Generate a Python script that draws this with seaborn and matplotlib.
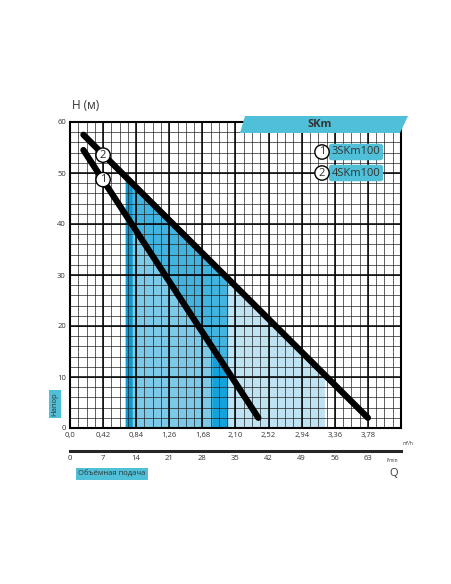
import numpy as np
import matplotlib
matplotlib.use("Agg")
import matplotlib.pyplot as plt
import seaborn as sns
from matplotlib.patches import Polygon, Circle, FancyBboxPatch

sns.set_style("white")
plt.rcParams['font.family'] = ['Open Sans', 'DejaVu Sans']

q1 = [0.17, 2.39]; h1 = [54.5, 2.0]
q2 = [0.17, 3.78]; h2 = [57.5, 2.0]
xticks = [0.0, 0.42, 0.84, 1.26, 1.68, 2.10, 2.52, 2.94, 3.36, 3.78]
xlabels = ["0,0", "0,42", "0,84", "1,26", "1,68", "2,10", "2,52", "2,94", "3,36", "3,78"]
lticks = [0, 7, 14, 21, 28, 35, 42, 49, 56, 63]
names = ["3SKm100", "4SKm100"]
W, H = 452, 584
fig = plt.figure(figsize=(W/100, H/100), dpi=100)
ax = fig.add_axes([70/W, 1-428/H, 331/W, 306/H])
ax.set_xlim(0, 4.2); ax.set_ylim(0, 60)

def c2(x): return np.interp(x, q2, h2)
def c1(x): return np.interp(x, q1, h1)
xs = np.linspace(0.7, 3.23, 200)
ax.fill_between(xs, 0, c2(xs), color="#bfe3f2", zorder=1, lw=0)
xm = np.linspace(0.79, 2.0, 200)
ax.fill_between(xm, 0, c2(xm), color="#6cc3e6", zorder=1.2, lw=0, alpha=0.8)
xd = np.linspace(0.79, 2.0, 100)
ax.fill_between(xd, c1(xd), c2(xd), color="#1ea5dc", zorder=1.3, lw=0, alpha=0.6)
ax.fill_between([1.8, 2.0], 0, [c1(1.8), c1(2.0)], color="#12a3dc", zorder=1.3, lw=0)
xk = np.linspace(0.7, 0.79, 10)
ax.fill_between(xk, 0, c2(xk), color="#0a9bd6", zorder=1.4, lw=0)

for v in np.arange(0, 4.2001, 0.105):
    ax.axvline(v, color="#222", lw=0.5, zorder=2)
for v in np.arange(0, 60.01, 2):
    ax.axhline(v, color="#222", lw=0.5, zorder=2)
for v in xticks:
    ax.axvline(v, color="#000", lw=1.1, zorder=2)
for v in range(0, 61, 10):
    ax.axhline(v, color="#000", lw=1.1, zorder=2)

sns.lineplot(x=q1, y=h1, ax=ax, color="black", lw=4.5, zorder=5)
sns.lineplot(x=q2, y=h2, ax=ax, color="black", lw=4.5, zorder=5)
for lab, (x, y) in [("1", (0.42, 48.7)), ("2", (0.42, 53.5))]:
    ax.text(x, y, lab, ha="center", va="center", fontsize=8, zorder=7,
            bbox=dict(boxstyle="circle,pad=0.15", fc="white", ec="black", lw=1))

ax.set_xticks(xticks); ax.set_xticklabels(xlabels, fontsize=5.5, color="#333")
ax.set_yticks(range(0, 61, 10)); ax.set_yticklabels([str(v) for v in range(0, 61, 10)], fontsize=5.5, color="#333")
ax.tick_params(length=0, pad=3)
for s in ax.spines.values():
    s.set_linewidth(1.5); s.set_color("black")
ax.text(4.22, -2.5, "m³/h", fontsize=3.5, va="top", color="#333")

ax2 = fig.add_axes([70/W, 1-451/H, 331/W, 0.0001])
ax2.set_xlim(0, 70); ax2.set_yticks([])
ax2.set_xticks(lticks); ax2.set_xticklabels([str(v) for v in lticks], fontsize=5.5, color="#333")
for k in ["top", "left", "right"]:
    ax2.spines[k].set_visible(False)
ax2.spines["bottom"].set_linewidth(2.2)
ax2.tick_params(length=3, width=1.2, direction="in", pad=3)
ax2.tick_params(axis="x", which="minor", length=3)
ax2.set_xticks(np.arange(0, 70.1, 3.5), minor=True)
fig.text(398/W, 1-462/H, "l/min", fontsize=3.5, color="#333", ha="right")
fig.text(398/W, 1-474/H, "Q", fontsize=8, color="#333", ha="right", va="center")

fig.text(72/W, 1-106/H, "H (м)", fontsize=8.5, color="#333", va="center")
fig.text(112/W, 1-474/H, "Объёмная подача", fontsize=5.5, color="#333", ha="center", va="center",
         bbox=dict(boxstyle="square,pad=0.3", fc="#4fc0d8", ec="none"))
fig.text(55/W, 1-404/H, "Напор", fontsize=5.5, color="#333", rotation=90, ha="center", va="center",
         bbox=dict(boxstyle="square,pad=0.3", fc="#4fc0d8", ec="none"))

poly = Polygon([(245/W, 1-116/H), (408/W, 1-116/H), (400/W, 1-133/H), (240/W, 1-133/H)],
               closed=True, transform=fig.transFigure, fc="#4fc0d8", ec="none")
fig.patches.append(poly)
fig.text(320/W, 1-124.5/H, "SKm", fontsize=8, fontweight="bold", color="#333", ha="center", va="center")
for i, (nm, y) in enumerate(zip(names, [152, 173])):
    fig.text(356/W, 1-y/H, nm, fontsize=8, color="#333", ha="center", va="center",
             bbox=dict(boxstyle="round,pad=0.25", fc="#4fc0d8", ec="none"))
    fig.text(322/W, 1-y/H, str(i+1), fontsize=8, color="#333", ha="center", va="center",
             bbox=dict(boxstyle="circle,pad=0.15", fc="white", ec="black", lw=1))
fig.savefig("out.png", dpi=100)
